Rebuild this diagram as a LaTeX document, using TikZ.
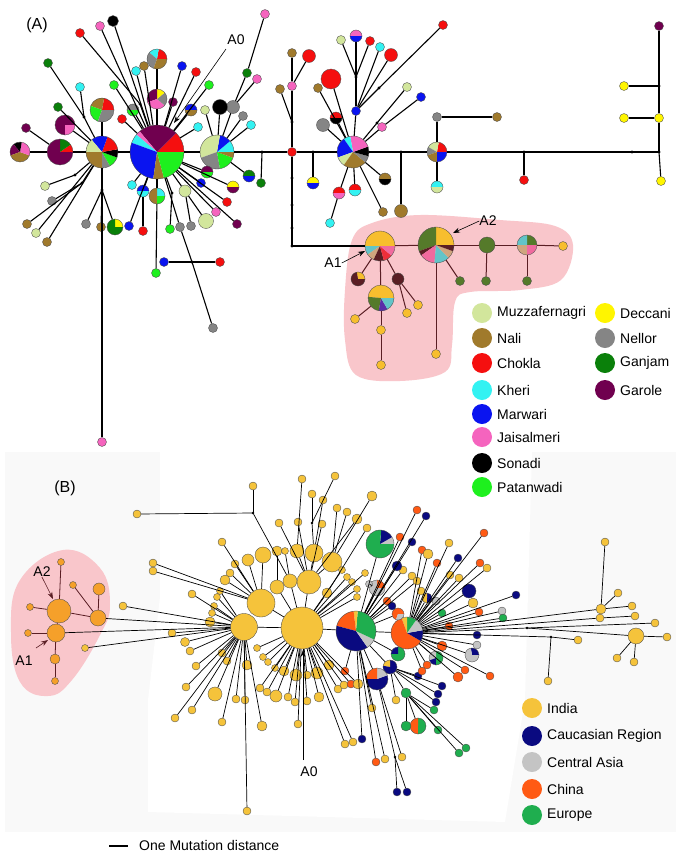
\documentclass[tikz,border=0pt]{standalone}
\usepackage{fontspec}
\setmainfont{Liberation Sans}
\usetikzlibrary{arrows.meta}
\definecolor{cMu}{HTML}{D2E69C}
\definecolor{cNa}{HTML}{A07A2C}
\definecolor{cCh}{HTML}{F50F0F}
\definecolor{cKh}{HTML}{33F2F2}
\definecolor{cMa}{HTML}{0A14F0}
\definecolor{cJa}{HTML}{F564BE}
\definecolor{cSo}{HTML}{000000}
\definecolor{cPa}{HTML}{1EF01E}
\definecolor{cDe}{HTML}{FFF500}
\definecolor{cNe}{HTML}{858585}
\definecolor{cGa}{HTML}{0A800A}
\definecolor{cGr}{HTML}{70004F}
\definecolor{kGo}{HTML}{F7BE2E}
\definecolor{kOl}{HTML}{557A2A}
\definecolor{kTe}{HTML}{62C4C8}
\definecolor{kPi}{HTML}{F06A9E}
\definecolor{kRe}{HTML}{EC2E3A}
\definecolor{kTa}{HTML}{CFA57E}
\definecolor{kMr}{HTML}{5A1E24}
\definecolor{kPu}{HTML}{5A2DA8}
\definecolor{bIn}{HTML}{F5C33B}
\definecolor{bCa}{HTML}{0A0A80}
\definecolor{bCe}{HTML}{C4C4C4}
\definecolor{bCn}{HTML}{FF5A14}
\definecolor{bEu}{HTML}{1FAE4F}
\definecolor{bOr}{HTML}{F5A02A}
\definecolor{blob}{HTML}{F9C6CB}
\newcommand\piec[4]{%
  \node[circle,inner sep=0pt,minimum size={2*#3pt}] (#1) at (#2) {};
  \foreach \cc/\ee [remember=\ee as \ss (initially 0)] in {#4}{%
    \fill[\cc] (#1.center) -- ++(\ss:#3pt) arc[start angle=\ss,end angle=\ee,radius=#3pt] -- cycle;}
  \draw[black!70,line width=0.35pt] (#1.center) circle[radius=#3pt];
}
\tikzset{
  nd/.style={circle,draw=black!70,line width=0.35pt,inner sep=0pt,minimum size=#1},
  ea/.style={line width=1.1pt,black},
  ek/.style={line width=1pt,kMr},
  eb/.style={line width=0.7pt,black},
  ep/.style={line width=0.8pt,kMr},
  lab/.style={font=\fontsize{14}{16}\selectfont,inner sep=0pt},
  big/.style={font=\fontsize{16}{18}\selectfont,inner sep=0pt},
  legdot/.style={circle,inner sep=0pt,minimum size=20pt},
  arr/.style={-{Stealth[length=7pt,width=5pt]},line width=0.6pt},
}
\begin{document}
\begin{tikzpicture}[x=1pt,y=-1pt]
\useasboundingbox (0,0) rectangle (683,855);
\fill[white] (0,0) rectangle (683,855);
% panel B background
\fill[gray!5] (5,452) rectangle (676,832);
\fill[white] (160,452) -- (532,452) -- (525,700) -- (505,822) -- (148,812) -- (148,700) -- (160,597) -- cycle;
% pink blobs
\fill[blob] plot[smooth cycle,tension=0.6] coordinates {(352,240) (372,223) (420,215) (500,220) (555,226) (573,245) (561,280) (520,290) (470,292) (455,302) (452,345) (445,372) (400,381) (356,375) (345,340) (345,290)};
\fill[blob] plot[smooth cycle,tension=0.7] coordinates {(20,580) (63,550) (100,568) (110,605) (100,635) (72,680) (48,696) (20,682) (11,632)};

% ================= PANEL A =================
\piec{aA0}{157,152}{27}{cCh/45,cGr/130,cJa/140,cKh/160,cMa/262,cNa/285,cPa/360}
\piec{aNH}{102,152}{16}{cSo/10,cCh/70,cMa/130,cMu/180,cNa/270,cNe/300,cPa/340,cSo/360}
\piec{aGa}{60,152}{13}{cCh/35,cGa/90,cGr/360}
\piec{aFL}{20,152}{10}{cJa/80,cSo/130,cGr/200,cNa/340,cJa/360}
\piec{aRH}{217,152}{17}{cKh/40,cMa/80,cMu/200,cNe/280,cPa/340,cNa/360}
\piec{aH2}{353,152}{16}{cSo/20,cJa/100,cKh/125,cMa/200,cMu/235,cNa/320,cNe/345,cSo/360}
\piec{aP3}{437,152}{10}{cCh/80,cMu/150,cNe/200,cNa/270,cMa/360}
\piec{aP4}{157,59}{10}{cCh/80,cKh/140,cNe/250,cNa/360}
\piec{aP5}{157,99}{10}{cNe/40,cDe/90,cGr/200,cJa/320,cNe/360}
\piec{aP6}{102,110}{12}{cCh/80,cNa/160,cPa/250,cNe/360}
\piec{aP7}{65,125}{10}{cGr/270,cJa/360}
\piec{aP8}{133,110}{6}{cNe/180,cPa/360}
\piec{aP9}{191,110}{6}{cMa/180,cNa/360}
\piec{aP10}{143,191}{6}{cMa/180,cKh/360}
\piec{aP11}{157,196}{8}{cKh/90,cNa/270,cPa/360}
\piec{aP12}{115,227}{8}{cDe/90,cGa/360}
\piec{aP13}{207,172}{6}{cGr/180,cPa/360}
\piec{aP14}{233,187}{6}{cDe/180,cGr/360}
\piec{aP15}{249,176}{6}{cGa/180,cMa/360}
\piec{aP16}{356,36}{6}{cJa/180,cMa/360}
\piec{aP17}{336,118}{6}{cCh/180,cSo/360}
\piec{aP18}{313,183}{6}{cDe/180,cMa/360}
\piec{aP19}{339,193}{6}{cCh/180,cJa/360}
\piec{aP20}{355,190}{6}{cCh/180,cKh/360}
\piec{aP21}{385,179}{6}{cNa/180,cSo/360}
\piec{aP22}{437,187}{6}{cKh/180,cMu/360}
% cluster pies
\piec{aA1}{380,246}{15}{kGo/180,kTe/215,kTa/245,kMr/285,kRe/320,kPi/360}
\piec{aA2}{436,245}{18}{kGo/90,kOl/200,kMr/215,kPi/265,kTe/315,kTa/340,kMr/360}
\piec{aP23}{527,245}{10}{kOl/90,kTe/180,kTa/270,kPi/360}
\piec{aP24}{358,279}{7}{kGo/100,kMr/360}
\piec{aP25}{381,298}{13}{kGo/175,kOl/260,kPu/300,kTe/360}

\foreach \n/\x/\y/\c/\d in {a1/113/21/cSo/11pt,a2/100/26/cJa/9pt,a3/80/33/cCh/9pt,a4/48/63/cGa/9pt,a5/80/87/cKh/9pt,a6/58/107/cGa/9pt,a7/144/66/cNa/9pt,a8/136/71/cKh/9pt,a9/182/66/cMa/9pt,a10/196/72/cCh/9pt,a11/209/85/cPa/9pt,a12/173/102/cGr/9pt,a13/114/85/cPa/9pt,a14/122/119/cCh/9pt,a15/198/127/cKh/9pt,a16/26/128/cGr/9pt,a17/265/14/cJa/9pt,a18/247/73/cGa/9pt,a19/257/79/cJa/9pt,a20/233/107/cNe/13pt,a21/220/107/cSo/15pt,a22/205/110/cMu/9pt,a23/243/116/cNe/9pt,a24/251/125/cKh/9pt,a25/201/183/cMa/9pt,a26/261/183/cGa/9pt,a27/132/185/cKh/9pt,a28/143/231/cCh/9pt,a29/156/273/cPa/9pt,a30/164/262/cMa/9pt,a31/220/262/cCh/9pt,a32/180/227/cNe/9pt,a33/213/328/cNe/9pt,a34/170/229/cPa/9pt,a35/185/191/cMu/12pt,a36/191/226/cNe/9pt,a37/206/221/cMu/15pt,a38/227/202/cCh/9pt,a39/216/212/cJa/9pt,a40/237/224/cGr/9pt,a41/45/186/cMu/9pt,a42/52/201/cNe/9pt,a43/27/224/cNa/9pt,a44/36/233/cMu/9pt,a45/47/242/cNa/9pt,a46/102/442/cJa/9pt,a47/86/224/cNe/9pt,a48/101/227/cNa/9pt,a49/129/226/cMa/9pt,a50/292/86/cJa/9pt,a51/292/53/cNa/9pt,a52/309/56/cCh/13pt,a53/280/89/cNa/9pt,a54/331/79/cCh/20pt,a55/318/88/cNa/9pt,a56/323/125/cNe/13pt,a57/356/111/cMa/9pt,a58/341/40/cMu/9pt,a59/370/41/cCh/9pt,a60/380/47/cKh/9pt,a61/443/25/cCh/9pt,a62/391/55/cCh/13pt,a63/407/87/cMu/9pt,a64/382/127/cJa/9pt,a65/421/97/cMa/9pt,a66/330/223/cKh/9pt,a67/383/212/cNa/9pt,a68/401/211/cNa/13pt,a69/437/117/cNe/9pt,a70/497/117/cNa/9pt,a71/524/180/cCh/9pt,a72/659/26/cGr/9pt,a73/659/118/cDe/9pt,a74/661/181/cDe/9pt,a75/624/86/cDe/9pt,a76/624/118/cDe/9pt,ar1/292/152/cCh/9pt,aG1/487/245/kOl/16pt,aY1/563/246/kGo/9pt,aM1/398/279/kMr/12pt,aY2/407/313/kGo/9pt,aY3/418/305/kGo/9pt,aY4/381/330/kGo/9pt,aY5/381/365/kGo/9pt,aY6/355/319/kGo/9pt,aY7/436/354/kGo/9pt,aG2/460/281/kOl/9pt,aG3/486/281/kOl/9pt,aG4/527/281/kOl/9pt}
  \node[nd=\d,fill=\c] (\n) at (\x,\y) {};
\foreach \n/\x/\y in {aj1/84/117,aj2/140/104,aj3/262/152,aj4/192/262,aj5/172/193,aj6/75/175,aj7/82/183,aj8/102/190,aj9/292/122,aj10/292/178,aj11/292/205,aj12/292/228,aj13/292/246,aj14/313/152,aj15/356/77,aj16/379/88,aj17/377/123,aj18/401/152,aj19/524/152,aj20/632/152,aj21/659/152,aj22/659/86}
  \coordinate (\n) at (\x,\y);

\foreach \a/\b in {aFL/aGa,aGa/aNH,aNH/aA0,aA0/aRH,aRH/aj3,aj3/ar1,ar1/aj14,aj14/aH2,aH2/aj18,aj18/aP3,aP3/aj19,aj19/aj20,aj20/aj21,a1/aA0,a2/aA0,a3/aj2,aj2/aA0,a4/aj1,a5/aj1,aj1/aNH,a6/aNH,a7/aA0,a8/aA0,a9/aA0,a10/aA0,a11/aA0,a12/aA0,a13/aA0,a14/aA0,a15/aA0,a16/aGa,aP7/aNH,aP6/aNH,aP4/aP5,aP5/aA0,aP8/aA0,aP9/aA0,a17/a18,a18/a20,a19/a20,a20/aRH,a21/aRH,a22/aRH,a23/aRH,a24/aRH,a26/aj3,a27/aA0,aP10/aA0,a28/aP10,aP11/aA0,a29/aP11,a30/aj4,aj4/a31,a32/aA0,a32/aj4,aj4/a33,aj5/aA0,a34/aj5,a35/aA0,a36/a35,a37/a35,a38/aA0,a39/aA0,a40/aA0,a25/aA0,aP13/aA0,aP14/aA0,aP15/aRH,a49/aA0,a41/aj6,aj6/aNH,a42/aj7,aj7/aNH,a43/aj7,a44/aNH,a45/aNH,aNH/aj8,aj8/a46,a47/aj8,a48/aj8,aP12/aj8,ar1/aj9,aj9/a50,a50/a51,a52/a50,a53/aj9,ar1/aj10,aj10/aj11,aj11/aj12,aj12/aj13,aj13/aA1,aj14/aP18,a54/aH2,a55/aH2,a56/aH2,aP17/aH2,a57/aH2,a57/aj15,aj15/a58,aj15/aP16,aj15/a59,a57/a60,a57/aj16,aj16/a61,a62/a57,aH2/aj17,aj17/a63,aH2/a64,a64/a65,aP19/aH2,a66/aP19,aP20/aH2,aP21/aH2,a67/aH2,aj18/a68,aP3/a69,a69/a70,aP3/aP22,aj19/a71,a72/aj22,aj22/a73,a73/aj21,aj21/a74,aj22/a75,a73/a76}
  \draw[ea] (\a) -- (\b);
\foreach \a/\b in {aA1/aA2,aA2/aG1,aG1/aP23,aP23/aY1,aA1/aP24,aA1/aM1,aM1/aY2,aM1/aY3,aA1/aP25,aP25/aY4,aY4/aY5,aP25/aY6,aA2/aY7,aA2/aG2,aG1/aG3,aP23/aG4}
  \draw[ek] (\a) -- (\b);
\foreach \n in {aj1,aj2,aj3,aj4,aj5,aj6,aj7,aj8,aj9,aj10,aj11,aj12,aj13,aj14,aj15,aj16,aj17,aj18,aj19,aj20,aj21,aj22}
  \fill[black] (\n) circle[radius=1.7pt];

% labels panel A
\node[big] (labA) at (37,25) {(A)};
\node[lab] (A0a) at (236,40) {A0};
\coordinate (a0s) at (226,49);
\coordinate (a0tip) at (174,123);
\draw[arr] (a0s) -- (a0tip);
\node[lab] (A1a) at (333,263) {A1};
\coordinate (a1tip) at (365,251);
\draw[arr] (A1a.east) -- (a1tip);
\node[lab] (A2a) at (488,221) {A2};
\coordinate (a2tip) at (453,233);
\draw[arr] (A2a.west) -- (a2tip);

% legend A
\foreach \n/\y/\c/\t in {lA1/313/cMu/Muzzafernagri,lA2/338/cNa/Nali,lA3/363/cCh/Chokla,lA4/390/cKh/Kheri,lA5/414/cMa/Marwari,lA6/437/cJa/Jaisalmeri,lA7/463/cSo/Sonadi,lA8/487/cPa/Patanwadi}{
  \node[legdot,fill=\c] (\n) at (482,\y) {};
  \node[lab,anchor=west] (\n t) at (497,\y) {\t};}
\foreach \n/\y/\c/\t in {lB1/313/cDe/Deccani,lB2/338/cNe/Nellor,lB3/363/cGa/Ganjam,lB4/390/cGr/Garole}{
  \node[legdot,fill=\c] (\n) at (605,\y) {};
  \node[lab,anchor=west] (\n t) at (620,\y) {\t};}

% ================= PANEL B =================
\piec{bP1}{356,631}{20}{bEu/85,bIn/97,bCn/165,bCa/305,bCe/335,bEu/360}
\piec{bP2}{407,633}{16}{bCa/10,bCe/55,bEu/90,bIn/110,bCn/330,bCa/360}
\piec{bP3}{380,544}{14}{bCe/30,bCa/85,bEu/360}
\piec{bP4}{377,588}{8}{bCn/90,bCe/360}
\piec{bP5}{398,614}{6}{bCn/250,bCe/360}
\piec{bP6}{427,598}{5}{bCa/90,bIn/270,bCa/360}
\piec{bP7}{472,655}{7}{bCa/100,bCe/360}
\piec{bP8}{436,658}{7}{bEu/90,bCe/200,bCa/270,bEu/360}
\piec{bP9}{398,654}{7}{bEu/90,bCa/180,bEu/360}
\piec{bP10}{390,667}{7}{bCa/90,bIn/170,bCa/360}
\piec{bP11}{377,679}{11}{bCa/20,bCe/90,bCn/180,bCa/360}
\piec{bP12}{418,726}{8}{bEu/90,bCn/270,bEu/360}

\foreach \n/\x/\y/\c/\d in {bA0/302/628/bIn/42pt,bL/244/627/bIn/27pt,bL2/261/603/bIn/28pt,bn1/277/587/bIn/14pt,bn2/290/581/bIn/14pt,bn3/309/582/bIn/24pt,bn4/327/593/bIn/10pt,bt1/248/560/bIn/12pt,bt2/263/555/bIn/16pt,bt3/277/551/bIn/10pt,bt4/285/551/bIn/7pt,bt5/297/551/bIn/14pt,bt6/314/553/bIn/18pt,bt7/332/562/bIn/20pt,bu1/302/479/bIn/8pt,bu2/335/476/bIn/8pt,bu3/312/494/bIn/8pt,bu4/323/500/bIn/8pt,bu5/372/496/bIn/10pt,bu6/337/508/bIn/8pt,bu7/347/512/bIn/8pt,bu8/357/519/bIn/10pt,bu9/367/528/bIn/8pt,bu10/279/523/bIn/8pt,bu11/298/522/bIn/8pt,bu12/322/524/bIn/8pt,bu13/222/542/bIn/8pt,bY1/137/514/bIn/8pt,bY2/253/486/bIn/8pt,bl1/235/564/bIn/8pt,bl2/230/573/bIn/8pt,bl3/225/580/bIn/10pt,bl4/220/591/bIn/7pt,bl5/217/597/bIn/7pt,bl6/214/606/bIn/7pt,bl7/212/613/bIn/7pt,bl8/210/622/bIn/10pt,br1/342/570/bIn/7pt,br2/347/577/bIn/7pt,br3/352/582/bIn/7pt,br4/357/589/bIn/7pt,br5/357/597/bIn/7pt,br6/365/573/bIn/7pt,bF1/153/563/bIn/8pt,bF2/153/571/bIn/8pt,bF3/192/594/bIn/8pt,bF4/123/606/bIn/8pt,bF5/172/633/bIn/8pt,bF6/85/648/bIn/7pt,bb1/185/642/bIn/9pt,bb2/190/651/bIn/8pt,bb3/196/666/bIn/8pt,bb4/186/687/bIn/8pt,bb5/175/718/bIn/8pt,bb6/192/710/bIn/8pt,bb7/215/694/bIn/14pt,bb8/222/653/bIn/8pt,bb9/227/661/bIn/8pt,bb10/222/722/bIn/8pt,bb11/236/699/bIn/8pt,bb12/245/700/bIn/8pt,bb13/247/665/bIn/10pt,bb14/262/726/bIn/10pt,bb15/247/811/bIn/8pt,bc1/257/648/bIn/7pt,bc2/263/657/bIn/7pt,bc3/268/662/bIn/7pt,bc4/275/668/bIn/7pt,bc5/284/671/bIn/10pt,bc6/296/675/bIn/12pt,bc7/307/675/bIn/8pt,bc8/317/673/bIn/12pt,bc9/329/665/bIn/10pt,bc10/260/688/bIn/8pt,bc11/267/692/bIn/8pt,bc12/276/696/bIn/12pt,bc13/288/697/bIn/8pt,bc14/295/702/bIn/8pt,bc15/298/724/bIn/8pt,bc16/307/701/bIn/8pt,bc17/319/697/bIn/10pt,bc18/338/689/bIn/8pt,bc19/344/685/bIn/8pt,bc20/351/684/bCn/8pt,bc21/358/684/bIn/10pt,bc22/345/744/bIn/8pt,bc23/353/742/bIn/8pt,bc24/362/739/bCa/8pt,bc25/345/671/bCn/8pt,bc26/372/708/bIn/8pt,bc27/376/762/bCn/8pt,bc28/385/759/bIn/8pt,bc29/402/757/bIn/8pt,bc30/396/700/bIn/8pt,bc31/397/792/bCa/8pt,bc32/407/792/bCa/8pt,bq1/417/510/bCn/8pt,bq2/426/516/bCa/8pt,bq3/400/537/bCn/8pt,bq4/412/542/bCa/8pt,bq5/422/550/bCn/8pt,bq6/428/554/bIn/10pt,bq7/437/563/bCn/8pt,bq8/458/558/bCa/8pt,bq9/449/543/bIn/8pt,bq10/484/533/bCn/8pt,bq11/480/563/bCn/8pt,bq12/487/568/bIn/8pt,bq13/403/570/bIn/8pt,bq14/412/576/bIn/8pt,bq15/417/581/bIn/8pt,bq16/450/575/bIn/8pt,bq17/459/578/bIn/8pt,bq18/469/591/bCa/14pt,bq19/473/603/bIn/10pt,bq20/516/595/bCa/8pt,bq21/502/611/bCe/8pt,bq22/503/618/bEu/8pt,bq23/479/612/bCn/8pt,bq24/442/613/bEu/8pt,bq25/436/601/bCe/8pt,bq26/421/591/bIn/8pt,bq27/392/606/bCa/8pt,bq28/387/601/bCn/8pt,bq29/449/626/bCn/8pt,bq30/477/635/bCa/8pt,bq31/477/645/bCe/8pt,bq32/442/646/bCn/10pt,bq33/465/670/bCn/8pt,bq34/458/677/bCn/10pt,bq35/490/676/bCn/8pt,bq36/369/584/bCe/7pt,bq37/397/566/bCa/10pt,bq39/418/676/bCa/8pt,bq40/442/686/bCa/8pt,bq41/438/694/bCa/8pt,bq42/436/702/bCa/8pt,bq43/434/710/bEu/8pt,bq44/438/730/bEu/8pt,bq45/427/665/bCn/8pt,bq46/422/671/bCn/8pt,bq47/406/693/bEu/10pt,bq48/406/726/bEu/10pt,bq50/459/753/bEu/8pt,bq51/466/748/bEu/8pt,bR1/601/609/bIn/10pt,bR2/605/542/bIn/8pt,bR3/618/593/bIn/8pt,bR4/632/606/bIn/8pt,bR5/600/618/bIn/8pt,bR6/635/616/bIn/8pt,bR7/655/623/bIn/8pt,bR8/636/636/bIn/16pt,bR9/667/637/bIn/8pt,bR10/617/658/bIn/8pt,bR11/634/662/bIn/8pt,bR12/578/640/bIn/8pt,bR13/548/681/bIn/8pt,bA2/59/611/bOr/24pt,bA1/56/633/bOr/18pt,bH/98/618/bOr/16pt,bO1/99/589/bOr/12pt,bO2/73/585/bOr/7pt,bO3/61/562/bOr/7pt,bO4/30/607/bOr/7pt,bO5/28/633/bOr/7pt,bO6/55/659/bOr/10pt,bO7/55/681/bOr/7pt}
  \node[nd=\d,fill=\c] (\n) at (\x,\y) {};
\foreach \n/\x/\y in {bj1/312/523,bj2/253/513,bj3/395/757,bjr1/527/628,bjr2/551/637}
  \coordinate (\n) at (\x,\y);

\foreach \a/\b in {bA0/bP1,bP1/bP2,bL/bA0,bL2/bA0,bn1/bA0,bn2/bA0,bn3/bA0,bn4/bA0,bt1/bL2,bt2/bL2,bt3/bn1,bt4/bn2,bt5/bn3,bt6/bn3,bt7/bn3,bu1/bt5,bu2/bj1,bu3/bj1,bj1/bt6,bu4/bt6,bu5/bt7,bu6/bt7,bu7/bt7,bu8/bn3,bu9/bn4,bu10/bn3,bu11/bn3,bu12/bn3,bu13/bL2,bY1/bj2,bj2/bY2,bj2/bn2,bl1/bL2,bl2/bL2,bl3/bL2,bl4/bL,bl5/bL,bl6/bL,bl7/bL,bl8/bL,br1/bA0,br2/bA0,br3/bA0,br4/bA0,br5/bA0,br6/bA0,bF1/bL2,bF2/bL2,bF3/bL,bF4/bL,bF5/bL,bF6/bL,bH/bL,bA1/bL,bb1/bL,bb2/bL,bb3/bL,bb4/bL,bb5/bL,bb6/bL,bb7/bL,bb8/bL,bb9/bL,bb10/bL,bb11/bL,bb12/bL,bb13/bL,bb14/bL,bb15/bL,bc1/bA0,bc2/bA0,bc3/bA0,bc4/bA0,bc5/bA0,bc6/bA0,bc7/bA0,bc8/bA0,bc9/bA0,bc10/bA0,bc11/bA0,bc12/bA0,bc13/bA0,bc14/bA0,bc15/bA0,bc16/bA0,bc17/bA0,bc18/bA0,bc19/bA0,bc20/bA0,bc21/bA0,bc22/bA0,bc23/bA0,bc24/bP1,bc25/bP1,bc26/bP1,bc27/bP1,bc28/bP1,bc29/bP11,bc30/bP10,bc31/bj3,bc32/bj3,bj3/bP11,bq1/bP1,bq2/bP1,bq3/bP1,bq4/bP1,bq5/bP2,bq6/bP2,bq7/bP2,bq8/bP2,bq9/bP2,bq10/bP2,bq11/bP2,bq12/bP2,bq13/bP1,bq14/bP1,bq15/bP1,bq16/bP2,bq17/bP2,bq18/bP2,bq19/bP2,bq20/bP2,bq21/bP2,bq22/bP2,bq23/bP2,bq24/bP2,bq25/bP2,bq26/bP2,bq27/bP1,bq28/bP1,bP4/bP1,bq36/bP4,bq37/bP1,bP3/bP1,bP5/bP1,bP6/bP2,bq29/bP2,bq30/bP2,bq31/bP2,bP7/bP2,bq32/bP2,bP8/bP2,bq33/bP2,bq34/bP2,bq35/bP2,bP9/bP1,bP10/bP1,bP11/bP1,bq39/bP10,bq40/bP10,bq41/bP10,bq42/bP10,bq45/bP2,bq46/bP2,bq47/bP10,bq47/bq43,bq47/bq44,bq47/bq50,bq47/bq51,bq47/bq48,bq47/bP12,bR1/bP2,bR1/bR2,bR1/bR3,bR1/bR4,bR5/bP2,bR5/bR6,bR7/bjr1,bR8/bjr1,bjr1/bP2,bR8/bR9,bR8/bR10,bR8/bR11,bR12/bjr2,bjr2/bR13,bjr2/bP2}
  \draw[eb] (\a) -- (\b);
\foreach \a/\b in {bA2/bA1,bA2/bO3,bA2/bO4,bA2/bH,bA1/bO5,bA1/bO6,bO6/bO7,bH/bO1,bH/bO2}
  \draw[ep] (\a) -- (\b);
\foreach \n in {bj1,bj2,bj3,bjr1,bjr2}
  \fill[black] (\n) circle[radius=1.4pt];

% labels panel B
\node[big] (labB) at (65,488) {(B)};
\node[lab] (A2b) at (42,572) {A2};
\coordinate (b2tip) at (53,599);
\draw[arr,kMr] (A2b.south) -- (b2tip);
\node[lab] (A1b) at (24,661) {A1};
\coordinate (b1s) at (36,648);
\coordinate (b1tip) at (48,640);
\draw[arr,kMr] (b1s) -- (b1tip);
\node[lab] (A0b) at (309,772) {A0};
\coordinate (b0s) at (303,760);
\coordinate (b0tip) at (303,650);
\draw[arr] (b0s) -- (b0tip);

% legend B
\foreach \n/\y/\c/\t in {lC1/708/bIn/India,lC2/736/bCa/Caucasian Region,lC3/762/bCe/Central Asia,lC4/789/bCn/China,lC5/815/bEu/Europe}{
  \node[legdot,fill=\c] (\n) at (532,\y) {};
  \node[lab,anchor=west] (\n t) at (547,\y) {\t};}

% scale bar
\coordinate (m1) at (109,846);
\coordinate (m2) at (128,846);
\draw[line width=1.1pt] (m1) -- (m2);
\node[lab,anchor=west] (mut) at (139,845) {One Mutation distance};
\end{tikzpicture}
\end{document}
